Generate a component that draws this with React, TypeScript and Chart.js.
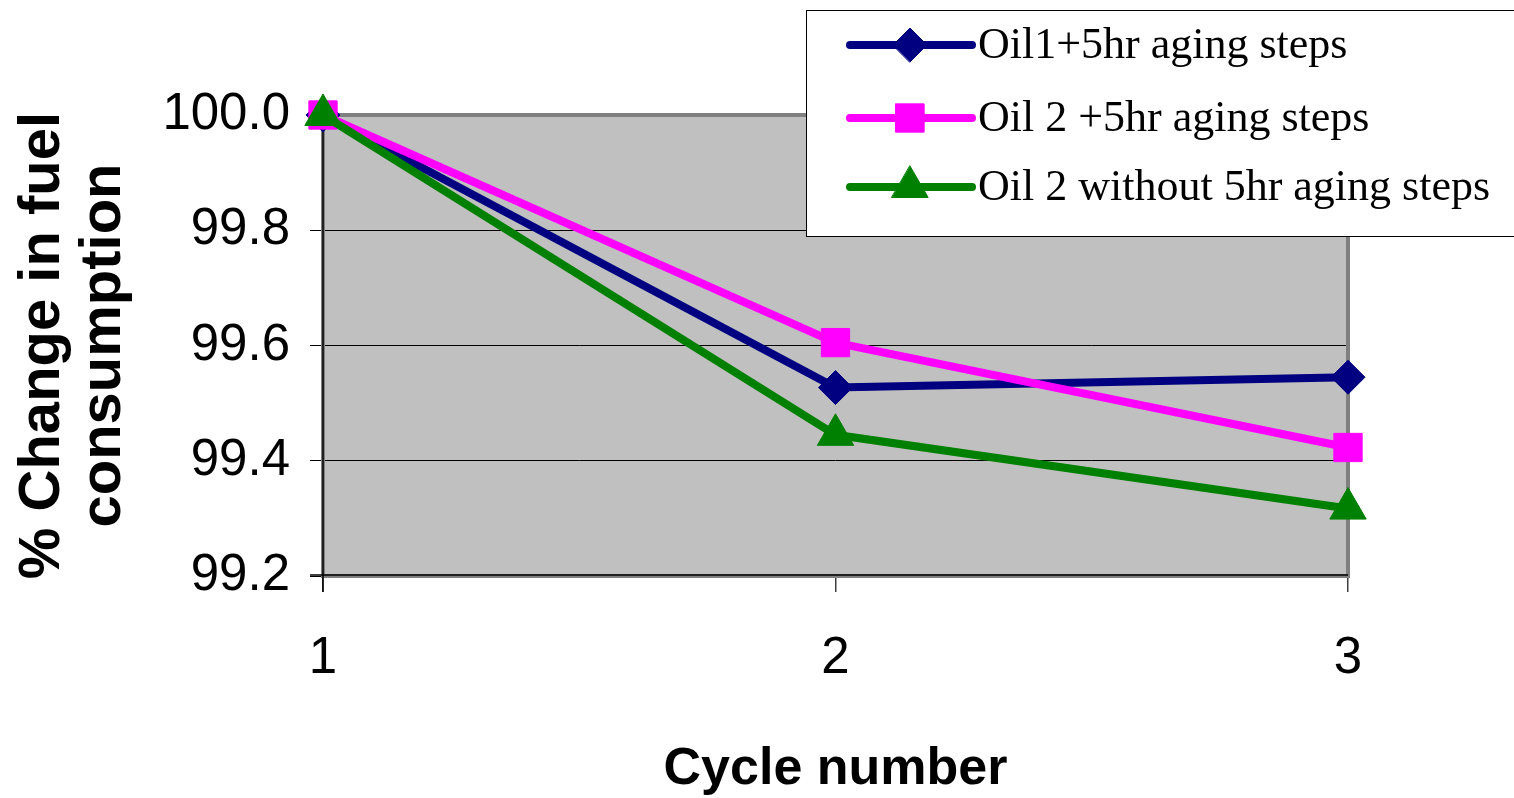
import React, { useEffect, useRef } from 'react';
import { Chart, registerables } from 'chart.js';
import { drawPoint } from 'chart.js/helpers';

Chart.register(...registerables);

// ---- data ----
const cycles = ['1', '2', '3'];
const oil1Aging = [100.0, 99.527, 99.545];
const oil2Aging = [100.0, 99.605, 99.423];
const oil2NoAging = [100.0, 99.445, 99.317];
const seriesNames = [
  'Oil1+5hr aging steps',
  'Oil 2 +5hr aging steps',
  'Oil 2 without 5hr aging steps',
];
const yTickValues = [99.2, 99.4, 99.6, 99.8, 100.0];
const xTitle = 'Cycle number';
const yTitle = ['% Change in fuel', 'consumption'];

const W = 1514;
const H = 798;

const tickFont = "'Liberation Sans', Arial, sans-serif";
const titleFont = "'Liberation Sans', Arial, sans-serif";
const legendFont = "'Liberation Serif', 'Times New Roman', serif";

const framePlugin = {
  id: 'frame',
  beforeDraw(chart: any) {
    const { ctx, chartArea: a } = chart;
    ctx.save();
    ctx.fillStyle = '#ffffff';
    ctx.fillRect(0, 0, chart.width, chart.height);
    ctx.fillStyle = '#C0C0C0';
    ctx.fillRect(a.left, a.top, a.right - a.left, a.bottom - a.top);
    ctx.restore();
  },
  beforeDatasetsDraw(chart: any) {
    const { ctx, chartArea: a } = chart;
    ctx.save();
    ctx.strokeStyle = '#808080';
    ctx.lineWidth = 4;
    ctx.strokeRect(a.left, a.top, a.right - a.left, a.bottom - a.top);
    ctx.strokeStyle = '#000000';
    ctx.lineWidth = 1.5;
    ctx.beginPath();
    ctx.moveTo(a.left - 13, a.bottom - 1);
    ctx.lineTo(a.right, a.bottom - 1);
    ctx.stroke();
    ctx.beginPath();
    ctx.moveTo(a.left, a.top);
    ctx.lineTo(a.left, a.bottom + 16);
    ctx.stroke();
    ctx.restore();
  },
};

const legendPlugin = {
  id: 'boxLegend',
  afterDraw(chart: any) {
    const { ctx } = chart;
    const box = { x: 806, y: 10, w: 740, h: 226 };
    const rows = [45, 118, 187];
    ctx.save();
    ctx.fillStyle = '#ffffff';
    ctx.fillRect(box.x, box.y, box.w, box.h);
    ctx.strokeStyle = '#000000';
    ctx.lineWidth = 1;
    ctx.strokeRect(box.x + 0.5, box.y + 0.5, box.w, box.h);
    chart.data.datasets.forEach((ds: any, i: number) => {
      const y = rows[i];
      ctx.strokeStyle = ds.borderColor;
      ctx.lineWidth = 8;
      ctx.lineCap = 'round';
      ctx.beginPath();
      ctx.moveTo(850, y);
      ctx.lineTo(972, y);
      ctx.stroke();
      ctx.fillStyle = ds.pointBackgroundColor;
      ctx.strokeStyle = ds.pointBorderColor;
      ctx.lineWidth = 1;
      drawPoint(ctx, { pointStyle: ds.pointStyle, radius: ds.pointRadius, rotation: 0, borderWidth: 1 }, 910, y);
      ctx.fillStyle = '#000000';
      ctx.font = `44px ${legendFont}`;
      ctx.textBaseline = 'middle';
      ctx.textAlign = 'left';
      ctx.fillText(ds.label, 978, y + 1);
    });
    ctx.restore();
  },
};

export default function App() {
  const ref = useRef<HTMLCanvasElement | null>(null);

  useEffect(() => {
    if (!ref.current) return;
    const mk = (label: string, data: number[], color: string, style: string, r: number, order: number) => ({
      label,
      data,
      borderColor: color,
      backgroundColor: color,
      pointBackgroundColor: color,
      pointBorderColor: color,
      pointStyle: style,
      pointRadius: r,
      pointBorderWidth: 1,
      borderWidth: 8,
      tension: 0,
      clip: false,
      order,
    });
    const chart = new Chart(ref.current, {
      type: 'line',
      data: {
        labels: cycles,
        datasets: [
          mk(seriesNames[0], oil1Aging, '#000080', 'rectRot', 17, 3),
          mk(seriesNames[1], oil2Aging, '#FF00FF', 'rect', 20, 2),
          mk(seriesNames[2], oil2NoAging, '#008000', 'triangle', 21, 1),
        ] as any,
      },
      options: {
        responsive: false,
        animation: false,
        events: [],
        layout: { padding: { left: 0, top: 115, right: 166, bottom: 0 } },
        plugins: {
          legend: { display: false },
          tooltip: { enabled: false },
          title: { display: false },
        },
        scales: {
          x: {
            type: 'category',
            offset: false,
            border: { display: false },
            grid: {
              drawOnChartArea: false,
              drawTicks: true,
              tickLength: 16,
              color: '#404040',
              lineWidth: 1.5,
            },
            ticks: {
              color: '#000000',
              font: { family: tickFont, size: 51 },
              padding: 36,
              maxRotation: 0,
            },
            title: {
              display: true,
              text: xTitle,
              color: '#000000',
              font: { family: titleFont, size: 52, weight: 'bold', lineHeight: 1.1 },
              padding: { top: 0, bottom: 0 },
            },
            afterFit(scale: any) {
              scale.height = H - 576;
            },
          },
          y: {
            type: 'linear',
            min: 99.2,
            max: 100.0,
            border: { display: false },
            grid: {
              drawOnChartArea: true,
              drawTicks: true,
              tickLength: 13,
              color: '#000000',
              lineWidth: 1,
            },
            ticks: {
              color: '#000000',
              font: { family: tickFont, size: 51 },
              padding: 20,
              callback: (v: any) => Number(v).toFixed(1),
            },
            afterBuildTicks(scale: any) {
              scale.ticks = yTickValues.map((v) => ({ value: v }));
            },
            title: {
              display: true,
              text: yTitle,
              color: '#000000',
              font: { family: titleFont, size: 58, weight: 'bold', lineHeight: 1.06 },
              padding: { top: 12, bottom: 0 },
            },
            afterFit(scale: any) {
              scale.width = 323;
            },
          },
        },
      },
      plugins: [framePlugin, legendPlugin],
    } as any);
    return () => chart.destroy();
  }, []);

  return (
    <div style={{ position: 'absolute', left: 0, top: 0, width: W, height: H }}>
      <canvas ref={ref} width={W} height={H} style={{ display: 'block' }} />
    </div>
  );
}
